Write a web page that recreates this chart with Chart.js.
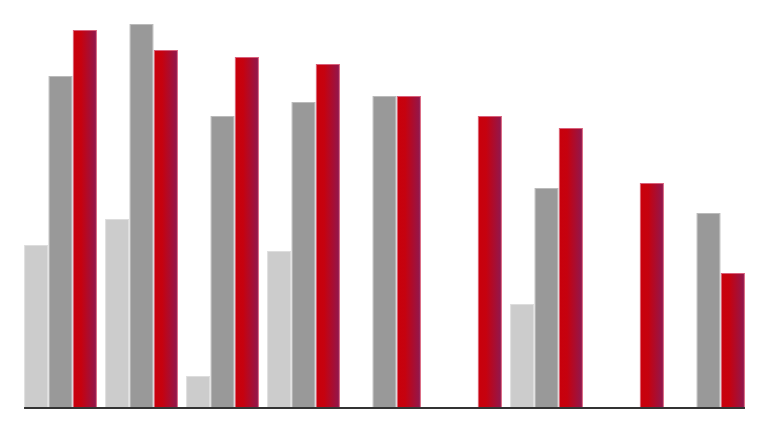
<!DOCTYPE html>
<html>
<head>
<meta charset="utf-8">
<script src="https://cdn.jsdelivr.net/npm/chart.js@4.4.1/dist/chart.umd.min.js"></script>
<style>
  html, body { margin: 0; padding: 0; background: #fff; }
  #wrap { width: 768px; height: 432px; }
</style>
</head>
<body>
<div id="wrap"><canvas id="chart"></canvas></div>
<script>
const categories = ['1', '2', '3', '4', '5', '6', '7', '8', '9'];
const seriesLight = [163, 189, 32, 157, null, null, 104, null, null];
const seriesGray = [332, 384, 292, 306, 312, null, 220, null, 195];
const seriesRed = [378, 358, 351, 344, 312, 292, 280, 225, 135];

function barWidth(chart) {
    return chart.scales.x.width / categories.length * 0.9 / 3;
}

// red bars get a left-to-right gradient, computed from the x scale
function redGradient(c) {
    const chart = c.chart;
    const xs = chart.scales.x;
    if (!xs || !chart.chartArea) return '#c8000a';
    const barW = barWidth(chart);
    const center = xs.getPixelForValue(c.dataIndex);
    const left = center + barW * 0.5;
    const right = center + barW * 1.5;
    const g = chart.ctx.createLinearGradient(left, 0, right, 0);
    g.addColorStop(0, '#c9000b');
    g.addColorStop(0.35, '#c6020f');
    g.addColorStop(1, '#8f1850');
    return g;
}

// axis line under the bars, from the first bar to the last one
const baseline = {
    id: 'baseline',
    afterDatasetsDraw(chart) {
        const ctx = chart.ctx;
        const xs = chart.scales.x;
        const barW = barWidth(chart);
        const y = chart.scales.y.getPixelForValue(0);
        const x0 = xs.getPixelForValue(0) - barW * 1.5;
        const x1 = xs.getPixelForValue(categories.length - 1) + barW * 1.5;
        ctx.save();
        ctx.strokeStyle = '#333333';
        ctx.lineWidth = 2;
        ctx.beginPath();
        ctx.moveTo(x0, y);
        ctx.lineTo(x1, y);
        ctx.stroke();
        ctx.restore();
    }
};

new Chart(document.getElementById('chart').getContext('2d'), {
    type: 'bar',
    data: {
        labels: categories,
        datasets: [
            { data: seriesLight, backgroundColor: '#cccccc', borderColor: '#dddddd', borderWidth: 1 },
            { data: seriesGray, backgroundColor: '#999999', borderColor: '#bbbbbb', borderWidth: 1 },
            { data: seriesRed, backgroundColor: redGradient, borderColor: '#d9607a', borderWidth: 1 }
        ]
    },
    options: {
        responsive: true,
        maintainAspectRatio: false,
        animation: false,
        layout: { padding: { left: 20, right: 19, top: 8, bottom: 24 } },
        datasets: { bar: { categoryPercentage: 0.9, barPercentage: 1 } },
        scales: {
            x: { display: false },
            y: { display: false, min: 0, max: 400 }
        },
        plugins: {
            legend: { display: false },
            tooltip: { enabled: false }
        }
    },
    plugins: [baseline]
});
</script>
</body>
</html>
